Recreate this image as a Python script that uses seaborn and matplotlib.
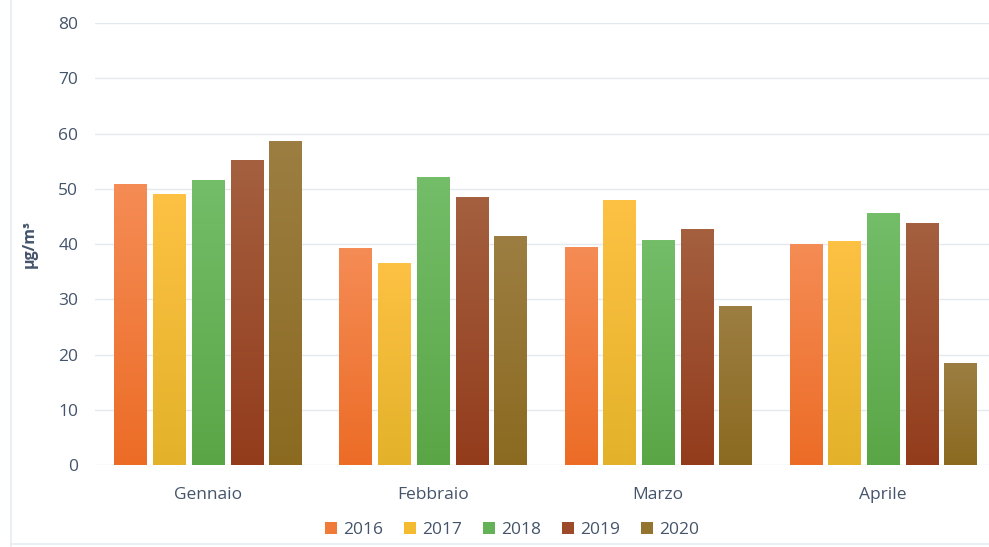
import numpy as np
import pandas as pd
import matplotlib
matplotlib.use("Agg")
import matplotlib.pyplot as plt
from matplotlib.patches import Rectangle
from matplotlib.lines import Line2D
import seaborn as sns

# Monthly mean concentrations per year
mesi = ["Gennaio", "Febbraio", "Marzo", "Aprile"]
anni = ["2016", "2017", "2018", "2019", "2020"]
v2016 = [50.7, 39.1, 39.3, 40.0]
v2017 = [48.9, 36.4, 47.8, 40.5]
v2018 = [51.5, 52.1, 40.7, 45.5]
v2019 = [55.1, 48.5, 42.7, 43.8]
v2020 = [58.6, 41.4, 28.7, 18.4]
y_ticks = [0, 10, 20, 30, 40, 50, 60, 70, 80]

# top / bottom colours of the vertical gradient for each year
col_top = ["#F58C55", "#FDC143", "#74BD69", "#A4603F", "#9C7E42"]
col_bot = ["#EC6C26", "#E3B22A", "#5AA646", "#933C1C", "#8B6A20"]
col_mid = ["#F07A38", "#F5BB30", "#65B157", "#9C4A2A", "#937530"]

serie = [v2016, v2017, v2018, v2019, v2020]
df = pd.DataFrame({
    "mese": np.repeat([mesi], len(anni), axis=0).ravel(),
    "anno": np.repeat(anni, len(mesi)),
    "valore": np.concatenate(serie),
})

sns.set_theme(style="white")
plt.rcParams["font.family"] = ["Open Sans", "DejaVu Sans"]
text_col = "#44546A"

fig = plt.figure(figsize=(9.89, 5.47), dpi=100)
ax = fig.add_axes([0.096, 0.1499, 0.904, 0.808])

sns.barplot(data=df, x="mese", y="valore", hue="anno", order=mesi,
            hue_order=anni, palette=col_mid, width=0.86, gap=0.17,
            ax=ax, legend=False, errorbar=None, zorder=3)

# replace flat fills with a top-to-bottom gradient
for i, cont in enumerate(ax.containers):
    c0 = np.array(matplotlib.colors.to_rgb(col_top[i]))
    c1 = np.array(matplotlib.colors.to_rgb(col_bot[i]))
    t = np.linspace(0, 1, 256)[:, None]
    grad = (c0[None, :] * (1 - t) + c1[None, :] * t)[:, None, :]
    for bar in cont:
        x0, y0 = bar.get_x(), bar.get_y()
        w, h = bar.get_width(), bar.get_height()
        ax.imshow(grad, extent=[x0, x0 + w, y0, y0 + h], origin="upper",
                  aspect="auto", zorder=3, interpolation="nearest")
        bar.set_visible(False)

ax.set_xlim(-0.502, 3.471)
ax.set_ylim(0, 80)
ax.set_yticks(y_ticks)
ax.grid(axis="y", color="#E3E9EF", linewidth=1.0, zorder=0)
ax.grid(axis="x", visible=False)
for s in ax.spines.values():
    s.set_visible(False)
ax.tick_params(axis="y", labelsize=12.5, colors=text_col, pad=12, length=0)
ax.tick_params(axis="x", labelsize=12.5, colors=text_col, pad=16, length=0)
ax.set_xlabel("")
ax.set_ylabel("µg/m³", fontsize=11.5, fontweight="bold", color=text_col)
ax.yaxis.set_label_coords(-0.064, 0.5)

handles = [Rectangle((0, 0), 1, 1, facecolor=c, edgecolor="none") for c in col_mid]
fig.legend(handles, anni, loc="center", bbox_to_anchor=(0.518, 0.031),
           ncol=5, frameon=False, fontsize=12.5, labelcolor=text_col,
           handlelength=0.7, handleheight=0.7, handletextpad=0.35,
           columnspacing=1.2)

# faint outer frame
fig.add_artist(Line2D([0.011, 0.011], [0.0, 1.0], transform=fig.transFigure,
                      color="#E6ECF2", linewidth=1.2))
fig.add_artist(Line2D([0.011, 1.0], [0.005, 0.005], transform=fig.transFigure,
                      color="#E6ECF2", linewidth=1.2))

fig.savefig("out.png", dpi=100, facecolor="white")
